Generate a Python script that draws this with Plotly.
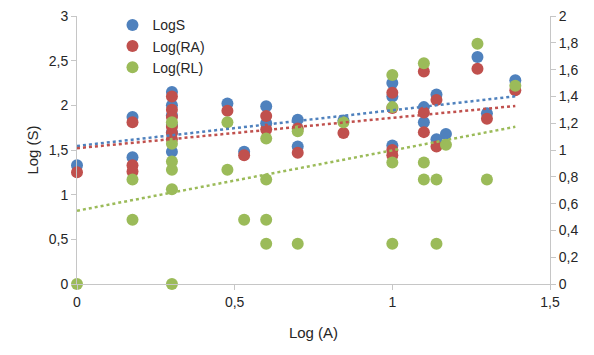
import plotly.graph_objects as go

# ---- data ----
logs_x = [0, 0.176, 0.176, 0.301, 0.301, 0.301, 0.301, 0.301, 0.301, 0.477, 0.53, 0.60, 0.60,
          0.70, 0.70, 0.845, 1.0, 1.0, 1.0, 1.1, 1.1, 1.14, 1.14, 1.17, 1.27, 1.30, 1.39]
logs_y = [1.33, 1.87, 1.42, 2.15, 2.00, 1.89, 1.78, 1.70, 1.48, 2.02, 1.48, 1.99, 1.80,
          1.84, 1.54, 1.83, 2.25, 2.10, 1.55, 1.98, 1.81, 2.12, 1.62, 1.68, 2.54, 1.91, 2.28]

logra_x = [0, 0.176, 0.176, 0.176, 0.301, 0.301, 0.301, 0.301, 0.301, 0.301, 0.477, 0.53,
           0.60, 0.60, 0.70, 0.70, 0.845, 1.0, 1.0, 1.0, 1.0, 1.1, 1.1, 1.1, 1.14, 1.14,
           1.27, 1.30, 1.39]
logra_y = [1.25, 1.81, 1.33, 1.26, 2.10, 1.95, 1.87, 1.76, 1.69, 1.62, 1.94, 1.44,
           1.88, 1.73, 1.74, 1.47, 1.69, 2.14, 1.97, 1.50, 1.44, 2.38, 1.92, 1.70, 2.06, 1.54,
           2.41, 1.85, 2.17]

logrl_x = [0, 0.176, 0.176, 0.301, 0.301, 0.301, 0.301, 0.301, 0.301, 0.477, 0.477, 0.53,
           0.60, 0.60, 0.60, 0.60, 0.70, 0.70, 0.845, 1.0, 1.0, 1.0, 1.0, 1.1, 1.1, 1.1,
           1.14, 1.14, 1.17, 1.27, 1.30, 1.39]
logrl_y = [0, 1.17, 0.72, 1.81, 1.57, 1.37, 1.28, 1.06, 0, 1.81, 1.28, 0.72,
           1.63, 1.17, 0.72, 0.45, 1.71, 0.45, 1.81, 2.34, 1.98, 1.36, 0.45, 2.47, 1.36, 1.17,
           1.17, 0.45, 1.56, 2.69, 1.17, 2.22]

# linear trendlines (intercept, slope)
trend_intercepts = [1.545, 1.52, 0.82]
trend_slopes = [0.40, 0.34, 0.676]

series_names = ["LogS", "Log(RA)", "Log(RL)"]
series_colors = ["#4F81BD", "#C0504D", "#9BBB59"]
series_x = [logs_x, logra_x, logrl_x]
series_y = [logs_y, logra_y, logrl_y]

FONT = "Liberation Sans, Arial, sans-serif"
TXT = "#262626"
AX = "#C6C6C6"

fig = go.Figure()
for name, col, xs, ys in zip(series_names, series_colors, series_x, series_y):
    fig.add_trace(go.Scatter(x=xs, y=ys, mode="markers", name=name, cliponaxis=False,
                             marker=dict(color=col, size=12, line=dict(width=0))))

for col, xs, b, m in zip(series_colors, series_x, trend_intercepts, trend_slopes):
    tx = [0, max(xs)]
    fig.add_trace(go.Scatter(x=tx, y=[b + m * v for v in tx], mode="lines", showlegend=False,
                             hoverinfo="skip",
                             line=dict(color=col, width=2.5, dash="dot")))

# secondary axis anchor trace (no visible marks)
fig.add_trace(go.Scatter(x=[None], y=[None], yaxis="y2", showlegend=False, hoverinfo="skip"))

axis_common = dict(showgrid=False, zeroline=False, showline=True, linecolor=AX, linewidth=1,
                   ticks="outside", tickcolor=AX, ticklen=5, tickwidth=1, automargin=False,
                   ticklabeloverflow="allow",
                   tickfont=dict(family=FONT, size=14, color=TXT))

fig.update_layout(
    width=586, height=347,
    margin=dict(l=69, r=44, t=8, b=71, autoexpand=False),
    paper_bgcolor="white", plot_bgcolor="white",
    separators=", ",
    font=dict(family=FONT, color=TXT),
    xaxis=dict(range=[0, 1.5], dtick=0.5, tick0=0,
               title=dict(text="Log (A)", font=dict(family=FONT, size=15, color=TXT), standoff=18),
               **axis_common),
    yaxis=dict(range=[0, 3], dtick=0.5, tick0=0,
               title=dict(text="Log (S)", font=dict(family=FONT, size=15, color=TXT), standoff=6),
               **axis_common),
    yaxis2=dict(range=[0, 2], dtick=0.2, tick0=0, overlaying="y", side="right", **axis_common),
    legend=dict(x=0.075, y=1.025, xanchor="left", yanchor="top", bgcolor="rgba(0,0,0,0)",
                font=dict(family=FONT, size=14, color=TXT), itemsizing="constant"),
    showlegend=True,
)

fig.write_html("out.html")
